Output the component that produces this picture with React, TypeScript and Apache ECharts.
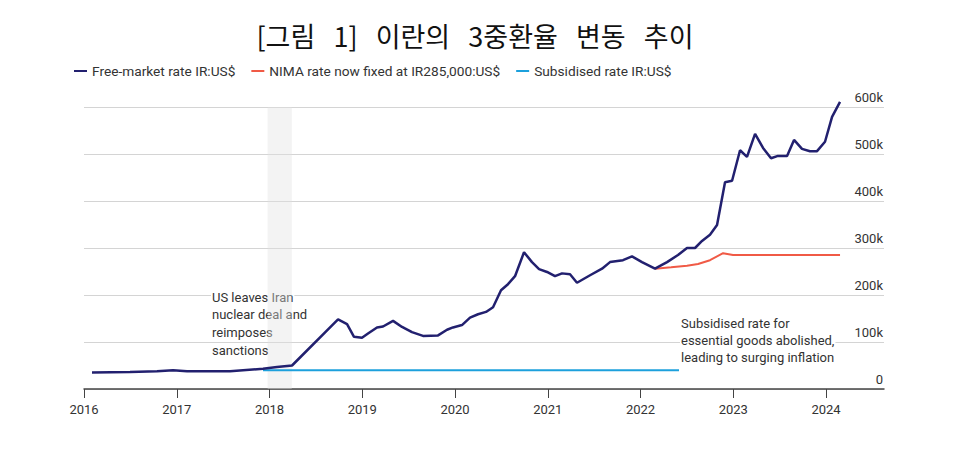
import React, { useEffect, useRef } from "react";
import * as echarts from "echarts";

const TITLE = "[그림   1]   이란의   3중환율   변동   추이";
const SERIES_NAMES = [
  "Free-market rate IR:US$",
  "NIMA rate now fixed at IR285,000:US$",
  "Subsidised rate IR:US$",
];
const YEAR_TICKS = [2016, 2017, 2018, 2019, 2020, 2021, 2022, 2023, 2024];
const Y_TICKS = [0, 100000, 200000, 300000, 400000, 500000, 600000];

// [year (decimal), rial per US$]
const freeMarket: [number, number][] = [
  [2016.086, 35000], [2016.496, 36000], [2016.787, 38000], [2016.96, 40000],
  [2017.111, 38000], [2017.574, 38000], [2017.93, 43000], [2018.081, 47000],
  [2018.243, 50000], [2018.739, 148000], [2018.836, 138000], [2018.911, 111000],
  [2018.997, 109000], [2019.062, 118000], [2019.159, 131000], [2019.224, 133000],
  [2019.332, 145000], [2019.429, 132000], [2019.536, 121000], [2019.655, 113000],
  [2019.817, 114000], [2019.914, 126000], [2019.978, 131000], [2020.075, 136000],
  [2020.162, 152000], [2020.248, 159000], [2020.334, 164000], [2020.41, 174000],
  [2020.496, 210000], [2020.571, 223000], [2020.647, 240000], [2020.744, 291000],
  [2020.83, 270000], [2020.906, 255000], [2020.992, 249000], [2021.078, 240000],
  [2021.154, 246000], [2021.24, 244000], [2021.315, 226000], [2021.456, 242000],
  [2021.585, 256000], [2021.671, 270000], [2021.811, 274000], [2021.908, 282000],
  [2022.016, 270000], [2022.156, 256000], [2022.286, 270000], [2022.404, 285000],
  [2022.501, 300000], [2022.588, 300000], [2022.663, 315000], [2022.749, 328000],
  [2022.825, 349000], [2022.911, 440000], [2022.987, 443000], [2023.073, 508000],
  [2023.148, 494000], [2023.235, 543000], [2023.321, 513000], [2023.407, 491000],
  [2023.482, 496000], [2023.58, 496000], [2023.655, 530000], [2023.741, 511000],
  [2023.827, 506000], [2023.903, 506000], [2023.989, 526000], [2024.065, 579000],
  [2024.151, 611000],
];

const nima: [number, number][] = [
  [2022.156, 256000], [2022.33, 259000], [2022.501, 262000], [2022.62, 266000],
  [2022.749, 274000], [2022.89, 289000], [2022.997, 285000], [2024.151, 285000],
];

const subsidised: [number, number][] = [
  [2017.93, 40000], [2022.415, 40000],
];

const sanctionsBand: [number, number] = [2017.98, 2018.24];

const NOTE_1 = ["US leaves Iran", "nuclear deal and", "reimposes", "sanctions"];
const NOTE_2 = [
  "Subsidised rate for",
  "essential goods abolished,",
  "leading to surging inflation",
];

const COLORS = ["#22206f", "#f05a46", "#1ca0dc"];
const FONT = "Roboto, 'Noto Sans', sans-serif";

export default function App() {
  const ref = useRef<HTMLDivElement>(null);

  useEffect(() => {
    document.body.style.margin = "0";
    if (!ref.current) return;
    const chart = echarts.init(ref.current, undefined, { renderer: "svg" });

    const noteText = (lines: string[], x: number, y0: number, lh: number) =>
      lines.map((t, i) => ({
        type: "text",
        x,
        y: y0 + i * lh,
        z: 1,
        style: {
          text: t,
          fontSize: 13,
          fontFamily: FONT,
          fill: "#333",
          backgroundColor: "#fff",
          padding: [0, 1],
          verticalAlign: "middle",
        },
      }));

    chart.setOption({
      animation: false,
      color: COLORS,
      textStyle: { fontFamily: FONT },
      legend: {
        left: 69,
        top: 59,
        icon: "rect",
        itemWidth: 13,
        itemHeight: 2,
        itemGap: 16,
        textStyle: { fontSize: 13.7, color: "#333", fontFamily: FONT },
        data: SERIES_NAMES,
      },
      grid: { left: 84, right: 85, top: 107, bottom: 78 },
      xAxis: {
        type: "value",
        min: 2016,
        max: 2024.625,
        interval: 1,
        axisLine: { show: true, lineStyle: { color: "#444", width: 1.5 } },
        axisTick: {
          show: true,
          length: 9,
          lineStyle: { color: "#444", width: 1 },
          customValues: YEAR_TICKS,
        },
        axisLabel: {
          fontSize: 13,
          color: "#333",
          margin: 14,
          fontFamily: FONT,
          customValues: YEAR_TICKS,
          formatter: (v: number) => String(v),
        },
        splitLine: { show: false },
      },
      yAxis: {
        type: "value",
        position: "right",
        min: 0,
        max: 600000,
        interval: 100000,
        axisLine: { show: false },
        axisTick: { show: false },
        axisLabel: {
          inside: true,
          margin: 1,
          fontSize: 13,
          color: "#333",
          fontFamily: FONT,
          verticalAlign: "bottom",
          padding: [0, 0, 3, 0],
          customValues: Y_TICKS,
          formatter: (v: number) => (v === 0 ? "0" : v / 1000 + "k"),
        },
        splitLine: { show: true, lineStyle: { color: "#d4d4d4", width: 1 } },
      },
      series: [
        {
          name: SERIES_NAMES[0],
          type: "line",
          data: freeMarket,
          showSymbol: false,
          clip: false,
          z: 4,
          lineStyle: { width: 2.5, color: COLORS[0] },
          markArea: {
            silent: true,
            itemStyle: { color: "rgba(225,225,225,0.4)" },
            data: [
              [
                { xAxis: sanctionsBand[0], yAxis: 0 },
                { xAxis: sanctionsBand[1], yAxis: 608000 },
              ],
            ],
          },
        },
        {
          name: SERIES_NAMES[1],
          type: "line",
          data: nima,
          showSymbol: false,
          z: 3,
          lineStyle: { width: 2, color: COLORS[1] },
        },
        {
          name: SERIES_NAMES[2],
          type: "line",
          data: subsidised,
          showSymbol: false,
          z: 3,
          lineStyle: { width: 2, color: COLORS[2] },
        },
      ],
      graphic: [
        {
          type: "text",
          x: 475,
          y: 35,
          style: {
            text: TITLE,
            fontSize: 27,
            fontFamily: "'Noto Sans CJK KR', sans-serif",
            fill: "#111",
            textAlign: "center",
            verticalAlign: "middle",
          },
        },
        ...noteText(NOTE_1, 211, 297, 17.7),
        ...noteText(NOTE_2, 680, 323, 17),
      ],
    });

    return () => chart.dispose();
  }, []);

  return <div ref={ref} style={{ width: 969, height: 467 }} />;
}
